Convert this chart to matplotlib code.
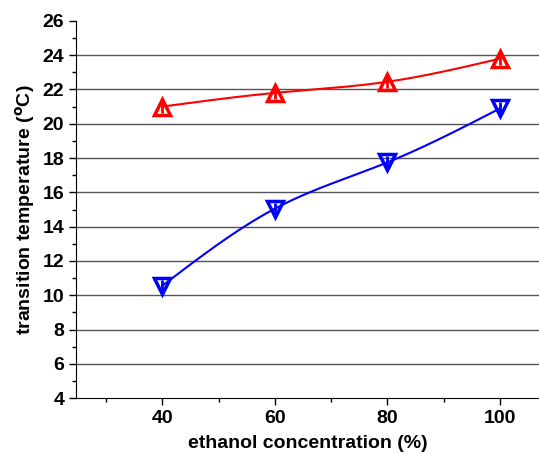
import matplotlib.pyplot as plt
import numpy as np

plt.rcParams['font.family'] = ['Liberation Sans', 'DejaVu Sans']
plt.rcParams['font.weight'] = 'bold'

conc = [40, 60, 80, 100]
temp_up = [21.0, 21.8, 22.45, 23.8]
temp_down = [10.55, 15.05, 17.75, 20.9]
err_up = [0.35, 0.35, 0.35, 0.35]
err_down = [0.35, 0.35, 0.35, 0.35]


def natural_spline(x, y, xs):
    # plain natural cubic spline through the points (line drawing only)
    x = np.asarray(x, float)
    y = np.asarray(y, float)
    n = len(x)
    h = np.diff(x)
    A = np.zeros((n, n))
    b = np.zeros(n)
    A[0, 0] = A[-1, -1] = 1
    for i in range(1, n - 1):
        A[i, i - 1] = h[i - 1]
        A[i, i] = 2 * (h[i - 1] + h[i])
        A[i, i + 1] = h[i]
        b[i] = 3 * ((y[i + 1] - y[i]) / h[i] - (y[i] - y[i - 1]) / h[i - 1])
    c = np.linalg.solve(A, b)
    out = np.empty_like(xs)
    for k, xv in enumerate(xs):
        i = min(np.searchsorted(x, xv, side='right') - 1, n - 2)
        i = max(i, 0)
        d = xv - x[i]
        bi = (y[i + 1] - y[i]) / h[i] - h[i] * (2 * c[i] + c[i + 1]) / 3
        di = (c[i + 1] - c[i]) / (3 * h[i])
        out[k] = y[i] + bi * d + c[i] * d ** 2 + di * d ** 3
    return out


fig = plt.figure(figsize=(5.39, 4.54), dpi=100)
ax = fig.add_axes([0.141, 0.123, 0.859, 0.831])

for yv in range(6, 26, 2):
    ax.axhline(yv, color='#555555', lw=1.0, zorder=0)

xs = np.linspace(40, 100, 200)
for ys, col, mk, err in [(temp_up, 'red', '^', err_up), (temp_down, 'blue', 'v', err_down)]:
    ax.plot(xs, natural_spline(conc, ys, xs), color=col, lw=1.5, zorder=2)
    ax.errorbar(conc, ys, yerr=err, fmt='none', ecolor=col, elinewidth=2, capsize=0, zorder=3)
    ax.plot(conc, ys, mk, ms=11, mfc='none', mec=col, mew=2.5, zorder=3)

ax.set_xlim(24.7, 106.9)
ax.set_ylim(4, 26)
ax.set_xticks([40, 60, 80, 100])
ax.set_xticks([30, 50, 70, 90], minor=True)
ax.set_yticks(range(4, 27, 2))
ax.set_yticks(range(5, 26, 2), minor=True)
ax.tick_params(direction='out', labelsize=14, length=5, width=1)
ax.tick_params(which='minor', direction='out', length=3, width=1)
for lab in ax.get_xticklabels() + ax.get_yticklabels():
    lab.set_fontweight('bold')

ax.spines['top'].set_visible(False)
ax.spines['right'].set_visible(False)

ax.set_xlabel('ethanol concentration (%)', fontsize=14, fontweight='bold', labelpad=6)
ax.set_ylabel('transition temperature ($^{\\mathrm{o}}$C)', fontsize=14, fontweight='bold')

fig.savefig('out.png', dpi=100)
